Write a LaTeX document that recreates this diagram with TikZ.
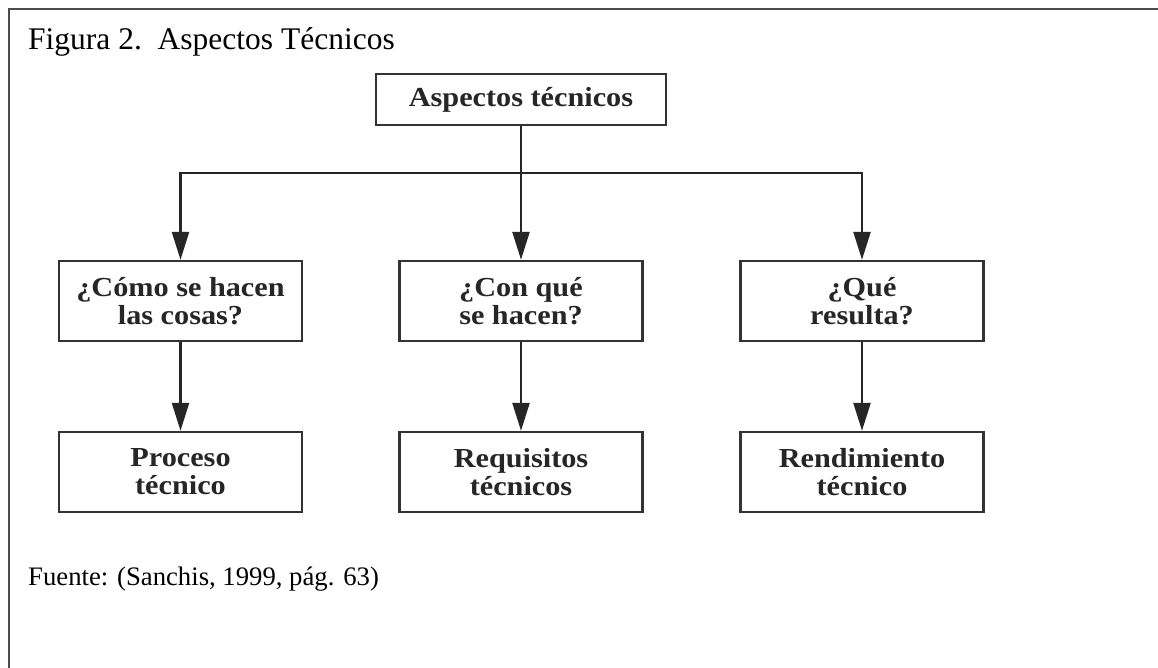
\documentclass[tikz,border=0pt]{standalone}
\usepackage{fontspec}
\setmainfont{Liberation Serif}
\newfontfamily\boxfont{Liberation Serif}[FakeStretch=1.1]
\usetikzlibrary{arrows.meta}
\tikzset{
  qbox/.style={draw=black!80, line width=2.4pt, minimum width=243pt, minimum height=80pt,
    align=center, inner sep=0pt, font=\boxfont\fontsize{27.5}{28}\selectfont\bfseries, text=black!85},
  topbox/.style={qbox, minimum width=290pt, minimum height=51pt},
  arr/.style={draw=black!85, line width=2.4pt, -{Triangle[length=28pt,width=17pt]}},
  ln/.style={draw=black!85, line width=2.4pt},
  frame/.style={draw=black!70, line width=1.5pt}
}
\begin{document}
\begin{tikzpicture}[x=1pt,y=-1pt]
\useasboundingbox (0,0) rectangle (1158,668);
\fill[white] (0,0) rectangle (1158,668);
\coordinate (fa) at (9,668);
\coordinate (fb) at (9,9);
\coordinate (fc) at (1158,9);
\draw[frame] (fa) -- (fb) -- (fc);
\node[anchor=base west, inner sep=0pt, font=\fontsize{31.5}{34}\selectfont] (title) at (28,50) {Figura 2.\ \ Aspectos Técnicos};
\node[topbox] (top) at (521,99.5) {Aspectos técnicos};
\node[qbox] (q1) at (180.5,301) {¿Cómo se hacen\\las cosas?};
\node[qbox] (q2) at (521,301) {¿Con qué\\se hacen?};
\node[qbox] (q3) at (862,301) {¿Qué\\resulta?};
\node[qbox] (r1) at (180.5,472) {Proceso\\técnico};
\node[qbox] (r2) at (521,472) {Requisitos\\técnicos};
\node[qbox] (r3) at (862,472) {Rendimiento\\técnico};
\coordinate (split) at (521,173);
\draw[ln] (top.south) -- (split);
\draw[arr] (split) -| (q1.north);
\draw[arr] (split) -- (q2.north);
\draw[arr] (split) -| (q3.north);
\draw[arr] (q1) -- (r1);
\draw[arr] (q2) -- (r2);
\draw[arr] (q3) -- (r3);
\node[anchor=base west, inner sep=0pt, font=\fontsize{26.7}{28}\selectfont] (src) at (28,585) {Fuente: (Sanchis, 1999, pág. 63)};
\end{tikzpicture}
\end{document}
